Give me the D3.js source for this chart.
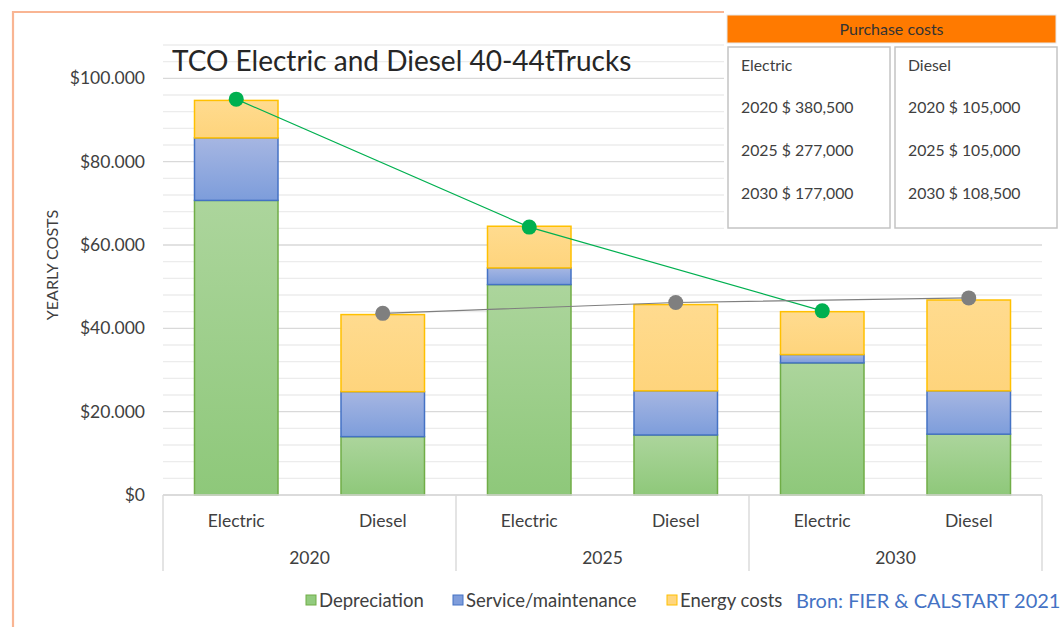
<!DOCTYPE html>
<html><head><meta charset="utf-8">
<script src="https://cdn.jsdelivr.net/npm/d3@7"></script>
<style>
html,body{margin:0;padding:0;background:#fff;}
svg{display:block;font-family:Lato,"Open Sans",sans-serif;}
</style></head>
<body>
<svg id="chart" width="1061" height="627"></svg>
<script>
// ---- data ----
const years = ["2020", "2025", "2030"];
const types = ["Electric", "Diesel"];
const depreciation = [70700, 14000, 50500, 14400, 31700, 14600];
const service = [15000, 10800, 4000, 10600, 2000, 10400];
const energy = [9000, 18500, 10000, 20700, 10300, 21800];
const electricTotal = [95000, 64300, 44200];
const dieselTotal = [43600, 46200, 47300];
const yTicks = [0, 20000, 40000, 60000, 80000, 100000];
const seriesNames = ["Depreciation", "Service/maintenance", "Energy costs"];
const purchaseElectric = [380500, 277000, 177000];
const purchaseDiesel = [105000, 105000, 108500];

(function () {
const svg = d3.select("#chart");
const W = 1061, H = 627;
const pL = 163, pR = 1042, pT = 45, pB = 495;

const cats = [];
years.forEach(yr => types.forEach(t => cats.push(yr + "|" + t)));

const x = d3.scaleBand().domain(cats).range([pL, pR]).paddingInner(0.43).paddingOuter(0.215);
const y = d3.scaleLinear().domain([0, 108000]).range([pB, pT]);

const loc = d3.formatLocale({decimal: ",", thousands: ".", grouping: [3], currency: ["$", ""]});
const fmtTick = loc.format("$,.0f");
const fmtPurch = d3.format(",");

// gradients
const defs = svg.append("defs");
const grads = [
  {id: "gDep", top: "#acd59c", bot: "#8ec87a"},
  {id: "gSer", top: "#a6b6e2", bot: "#7d9ddb"},
  {id: "gEn", top: "#ffdb8f", bot: "#fed47c"}
];
grads.forEach(g => {
  const lg = defs.append("linearGradient").attr("id", g.id).attr("x1", 0).attr("y1", 0).attr("x2", 0).attr("y2", 1);
  lg.append("stop").attr("offset", "0%").attr("stop-color", g.top);
  lg.append("stop").attr("offset", "100%").attr("stop-color", g.bot);
});
const fills = ["url(#gDep)", "url(#gSer)", "url(#gEn)"];
const strokes = ["#70ad47", "#4472c4", "#ffc000"];
const legendFills = ["#92cb7e", "#7f9ddb", "#ffd67f"];

// orange frame
svg.append("path").attr("d", `M725,12 H13 V${H}`).attr("fill", "none")
  .attr("stroke", "#f9b593").attr("stroke-width", 2.2);

// gridlines
const minor = d3.range(0, 108001, 4000);
svg.append("g").selectAll("line").data(minor).join("line")
  .attr("x1", pL).attr("x2", pR)
  .attr("y1", d => y(d)).attr("y2", d => y(d))
  .attr("stroke", d => d % 20000 === 0 ? "#d9d9d9" : "#ececec")
  .attr("stroke-width", 1.4);

// title
svg.append("text").attr("x", 172).attr("y", 71).attr("font-size", 28).attr("fill", "#262626")
  .text("TCO Electric and Diesel 40-44tTrucks");

// y axis
const yAxis = d3.axisLeft(y).tickValues(yTicks).tickFormat(fmtTick).tickSize(0).tickPadding(18);
const gy = svg.append("g").attr("transform", `translate(${pL},0)`).call(yAxis);
gy.select(".domain").remove();
gy.selectAll("text").attr("font-size", 17.5).attr("fill", "#404040").attr("font-family", "Lato, sans-serif");

svg.append("text").attr("transform", `translate(58,265) rotate(-90)`).attr("text-anchor", "middle")
  .attr("font-size", 16).attr("fill", "#404040").text("YEARLY COSTS");

// stacked bars
const rows = cats.map((c, i) => ({cat: c, v: [depreciation[i], service[i], energy[i]]}));
const gb = svg.append("g");
rows.forEach(r => {
  let acc = 0;
  r.v.forEach((v, k) => {
    gb.append("rect")
      .attr("x", x(r.cat)).attr("width", x.bandwidth())
      .attr("y", y(acc + v)).attr("height", y(acc) - y(acc + v))
      .attr("fill", fills[k]).attr("stroke", strokes[k]).attr("stroke-width", 1.5);
    acc += v;
  });
});

// category axis
const ga = svg.append("g");
ga.append("line").attr("x1", pL).attr("x2", pR).attr("y1", pB).attr("y2", pB)
  .attr("stroke", "#d9d9d9").attr("stroke-width", 1.4);
const groupW = (pR - pL) / years.length;
d3.range(years.length + 1).forEach(i => {
  ga.append("line").attr("x1", pL + i * groupW).attr("x2", pL + i * groupW)
    .attr("y1", pB).attr("y2", 571).attr("stroke", "#d9d9d9").attr("stroke-width", 1.4);
});
ga.selectAll("text.type").data(cats).join("text").attr("class", "type")
  .attr("x", d => x(d) + x.bandwidth() / 2).attr("y", 527).attr("text-anchor", "middle")
  .attr("font-size", 17.5).attr("fill", "#404040").text(d => d.split("|")[1]);
ga.selectAll("text.year").data(years).join("text").attr("class", "year")
  .attr("x", (d, i) => pL + (i + 0.5) * groupW).attr("y", 564).attr("text-anchor", "middle")
  .attr("font-size", 17.5).attr("fill", "#404040").text(d => d);

// lines
const lineData = [
  {vals: electricTotal, type: "Electric", color: "#00b050", w: 1.2},
  {vals: dieselTotal, type: "Diesel", color: "#7f7f7f", w: 1.1}
];
lineData.forEach(L => {
  const pts = years.map((yr, i) => [x(yr + "|" + L.type) + x.bandwidth() / 2, y(L.vals[i])]);
  svg.append("path").attr("d", d3.line()(pts)).attr("fill", "none").attr("stroke", L.color).attr("stroke-width", L.w);
});
lineData.forEach(L => {
  years.forEach((yr, i) => {
    svg.append("circle").attr("cx", x(yr + "|" + L.type) + x.bandwidth() / 2).attr("cy", y(L.vals[i]))
      .attr("r", 7.5).attr("fill", L.color);
  });
});

// legend
const legX = [306, 453, 667];
seriesNames.forEach((n, i) => {
  svg.append("rect").attr("x", legX[i]).attr("y", 595).attr("width", 10).attr("height", 10)
    .attr("fill", legendFills[i]).attr("stroke", strokes[i]).attr("stroke-width", 1);
  svg.append("text").attr("x", legX[i] + 13).attr("y", 607).attr("font-size", 18.5).attr("fill", "#404040").text(n);
});
svg.append("text").attr("x", 796).attr("y", 608).attr("font-size", 20).attr("fill", "#4472c4")
  .text("Bron: FIER & CALSTART 2021");

// purchase cost box
const pb = svg.append("g");
pb.append("rect").attr("x", 724).attr("y", 0).attr("width", 337).attr("height", 232).attr("fill", "#fff");
pb.append("rect").attr("x", 727).attr("y", 15).attr("width", 329).attr("height", 28)
  .attr("fill", "#ff7a00").attr("stroke", "#e8e8e8").attr("stroke-width", 1);
pb.append("text").attr("x", 891.5).attr("y", 35).attr("text-anchor", "middle").attr("font-size", 16)
  .attr("fill", "#333").text("Purchase costs");
const boxes = [
  {x: 728, title: "Electric", vals: purchaseElectric},
  {x: 895, title: "Diesel", vals: purchaseDiesel}
];
boxes.forEach(b => {
  pb.append("rect").attr("x", b.x).attr("y", 47).attr("width", 162).attr("height", 181)
    .attr("fill", "#fff").attr("stroke", "#c4c4c4").attr("stroke-width", 1.5);
  pb.append("text").attr("x", b.x + 13).attr("y", 71).attr("font-size", 15.8).attr("fill", "#404040").text(b.title);
  b.vals.forEach((v, i) => {
    pb.append("text").attr("x", b.x + 13).attr("y", 113 + i * 43).attr("font-size", 15.8).attr("fill", "#404040")
      .text(years[i] + " $ " + fmtPurch(v));
  });
});
})();
</script>
</body></html>
